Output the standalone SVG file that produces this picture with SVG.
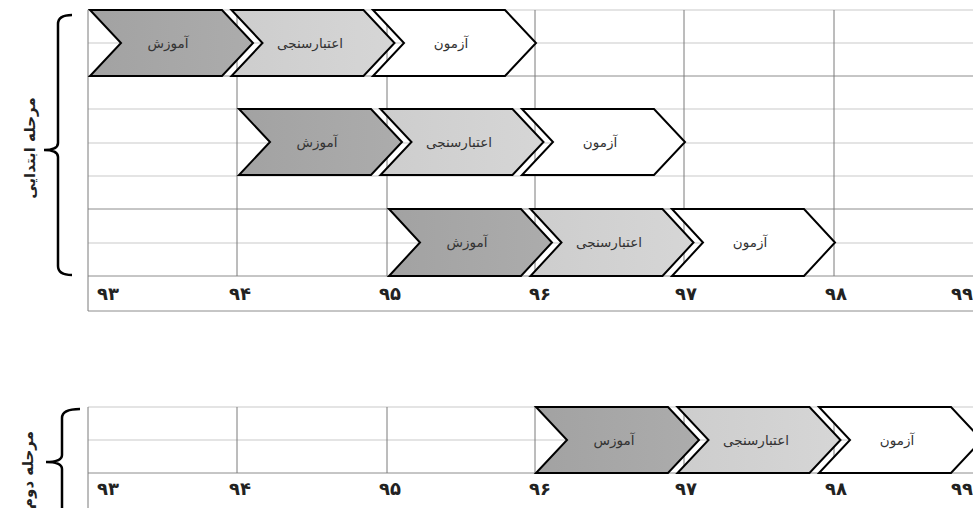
<svg xmlns="http://www.w3.org/2000/svg" width="973" height="508" viewBox="0 0 973 508">
<style>
.gl{stroke:#c9c9c9;stroke-width:1;fill:none}
.gd{stroke:#8c8c8c;stroke-width:1;fill:none}
.gv{stroke:#7a7a7a;stroke-width:1;fill:none}
.ch{stroke:#000;stroke-width:2;stroke-linejoin:miter}
.d{fill:url(#gd)}
.l{fill:url(#gl)}
.w{fill:#fff}
.t{font-family:"DejaVu Sans",sans-serif;font-size:13.5px;fill:#333;text-anchor:middle}
.ax{font-family:"DejaVu Sans",sans-serif;font-size:18px;font-weight:bold;fill:#222;text-anchor:middle}
.vt{font-family:"DejaVu Sans",sans-serif;font-size:15px;font-weight:bold;fill:#222;text-anchor:middle}
.br{stroke:#000;stroke-width:2.5;fill:none}
</style>
<defs>
<linearGradient id="gd" x1="0" y1="0" x2="1" y2="0"><stop offset="0" stop-color="#a2a2a2"/><stop offset="1" stop-color="#acacac"/></linearGradient>
<linearGradient id="gl" x1="0" y1="0" x2="1" y2="0"><stop offset="0" stop-color="#cdcdcd"/><stop offset="1" stop-color="#d6d6d6"/></linearGradient>
</defs>
<rect width="973" height="508" fill="#fff"/>
<g id="grid-top">
<line class="gl" x1="88" y1="10" x2="973" y2="10"/>
<line class="gl" x1="88" y1="43" x2="973" y2="43"/>
<line class="gd" x1="88" y1="76" x2="973" y2="76"/>
<line class="gl" x1="88" y1="109" x2="973" y2="109"/>
<line class="gl" x1="88" y1="143" x2="973" y2="143"/>
<line class="gl" x1="88" y1="176" x2="973" y2="176"/>
<line class="gd" x1="88" y1="209" x2="973" y2="209"/>
<line class="gl" x1="88" y1="243" x2="973" y2="243"/>
<line class="gd" x1="88" y1="276" x2="973" y2="276"/>
<line class="gd" x1="88" y1="311" x2="973" y2="311"/>
<line class="gv" x1="88" y1="10" x2="88" y2="311"/>
<line class="gv" x1="237" y1="10" x2="237" y2="276"/>
<line class="gv" x1="387" y1="10" x2="387" y2="276"/>
<line class="gv" x1="535" y1="10" x2="535" y2="276"/>
<line class="gv" x1="684" y1="10" x2="684" y2="276"/>
<line class="gv" x1="834" y1="10" x2="834" y2="276"/>
</g>
<g id="grid-bottom">
<line class="gl" x1="88" y1="407" x2="973" y2="407"/>
<line class="gl" x1="88" y1="440" x2="973" y2="440"/>
<line class="gd" x1="88" y1="473" x2="973" y2="473"/>
<line class="gv" x1="88" y1="407" x2="88" y2="508"/>
<line class="gv" x1="237" y1="407" x2="237" y2="473"/>
<line class="gv" x1="387" y1="407" x2="387" y2="473"/>
<line class="gv" x1="535" y1="407" x2="535" y2="473"/>
<line class="gv" x1="684" y1="407" x2="684" y2="473"/>
<line class="gv" x1="834" y1="407" x2="834" y2="473"/>
</g>
<g id="row1">
<g id="r1-train"><polygon class="ch d" points="90,10 222,10 253,43 222,76 90,76 121,43"/><text class="t" x="168" y="48">آموزش</text></g>
<g id="r1-valid"><polygon class="ch l" points="231.5,10 363.5,10 394.5,43 363.5,76 231.5,76 262.5,43"/><text class="t" x="310" y="48">اعتبارسنجی</text></g>
<g id="r1-test"><polygon class="ch w" points="373,10 505,10 536,43 505,76 373,76 404,43"/><text class="t" x="451" y="48">آزمون</text></g>
</g>
<g id="row2">
<g id="r2-train"><polygon class="ch d" points="239,109 371,109 402,142 371,175 239,175 270,142"/><text class="t" x="317" y="147">آموزش</text></g>
<g id="r2-valid"><polygon class="ch l" points="380.5,109 512.5,109 543.5,142 512.5,175 380.5,175 411.5,142"/><text class="t" x="459" y="147">اعتبارسنجی</text></g>
<g id="r2-test"><polygon class="ch w" points="522,109 654,109 685,142 654,175 522,175 553,142"/><text class="t" x="600" y="147">آزمون</text></g>
</g>
<g id="row3">
<g id="r3-train"><polygon class="ch d" points="389,209 521,209 552,242.5 521,276 389,276 420,242.5"/><text class="t" x="467" y="247">آموزش</text></g>
<g id="r3-valid"><polygon class="ch l" points="530.5,209 662.5,209 693.5,242.5 662.5,276 530.5,276 561.5,242.5"/><text class="t" x="609" y="247">اعتبارسنجی</text></g>
<g id="r3-test"><polygon class="ch w" points="672,209 804,209 835,242.5 804,276 672,276 703,242.5"/><text class="t" x="750" y="247">آزمون</text></g>
</g>
<g id="row4">
<g id="r4-train"><polygon class="ch d" points="536,407 668,407 699,440 668,473 536,473 567,440"/><text class="t" x="614" y="445">آموزس</text></g>
<g id="r4-valid"><polygon class="ch l" points="677.5,407 809.5,407 840.5,440 809.5,473 677.5,473 708.5,440"/><text class="t" x="756" y="445">اعتبارسنجی</text></g>
<g id="r4-test"><polygon class="ch w" points="819,407 951,407 982,440 951,473 819,473 850,440"/><text class="t" x="897" y="445">آزمون</text></g>
</g>
<g id="axis-top">
<text class="ax" x="108" y="300">۹۳</text>
<text class="ax" x="240" y="300">۹۴</text>
<text class="ax" x="390" y="300">۹۵</text>
<text class="ax" x="540" y="300">۹۶</text>
<text class="ax" x="686" y="300">۹۷</text>
<text class="ax" x="836" y="300">۹۸</text>
<text class="ax" x="962" y="300">۹۹</text>
</g>
<g id="axis-bottom">
<text class="ax" x="108" y="495">۹۳</text>
<text class="ax" x="240" y="495">۹۴</text>
<text class="ax" x="390" y="495">۹۵</text>
<text class="ax" x="540" y="495">۹۶</text>
<text class="ax" x="686" y="495">۹۷</text>
<text class="ax" x="836" y="495">۹۸</text>
<text class="ax" x="962" y="495">۹۹</text>
</g>
<g id="phase1">
<path class="br" d="M72,15 Q58,15 58,24 L58,143 Q58,150 44,150 Q58,150 58,157 L58,266 Q58,275 72,275"/>
<text class="vt" transform="translate(35,148) rotate(-90)">مرحله ابتدایی</text>
</g>
<g id="phase2">
<path class="br" d="M80,409 Q62,409 62,418 L62,455 Q62,462 46,462 Q62,462 62,469 L62,508"/>
<text class="vt" transform="translate(33,470) rotate(-90)">مرحله دوم</text>
</g>
</svg>
